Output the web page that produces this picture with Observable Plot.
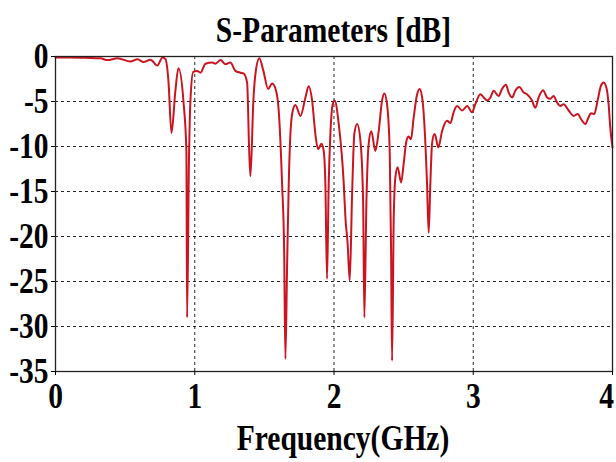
<!DOCTYPE html>
<html>
<head>
<meta charset="utf-8">
<script src="https://cdn.jsdelivr.net/npm/d3@7"></script>
<script src="https://cdn.jsdelivr.net/npm/@observablehq/plot@0.6"></script>
<style>
  body { margin: 0; background: #fff; }
  #wrap { position: relative; width: 616px; height: 462px; overflow: hidden;
          font-family: "Liberation Serif", "Times New Roman", serif; font-weight: bold; color: #000; }
  .lbl { position: absolute; text-align: center; line-height: 1; font-size: 36px;
         transform: scaleX(0.82); transform-origin: center; white-space: nowrap; }
  #chart { position: absolute; left: 0; top: 0; }
</style>
</head>
<body>
<div id="wrap">
  <div id="chart"></div>
  <div class="lbl" id="title" style="left:55px;width:557px;top:12px;">S-Parameters [dB]</div>
  <div class="lbl" id="xlabel" style="left:70px;width:546px;top:420px;">Frequency(GHz)</div>
</div>
<script>
// Frequency sweep (GHz) and the measured response (dB)
const freq = [
  0.000, 0.108, 0.215, 0.323, 0.373, 0.445, 0.538, 0.589, 0.632, 0.682,
  0.732, 0.768, 0.790, 0.811, 0.833, 0.861, 0.883, 0.919, 0.940, 0.945,
  0.958, 0.969, 0.989, 1.017, 1.041, 1.077, 1.125, 1.149, 1.185, 1.220,
  1.256, 1.292, 1.328, 1.352, 1.376, 1.391, 1.400, 1.421, 1.436, 1.464,
  1.493, 1.527, 1.556, 1.584, 1.603, 1.627, 1.642, 1.651, 1.663, 1.675,
  1.687, 1.704, 1.723, 1.759, 1.795, 1.818, 1.843, 1.866, 1.886, 1.910,
  1.926, 1.938, 1.950, 1.962, 1.974, 1.991, 2.005, 2.034, 2.070, 2.082,
  2.098, 2.113, 2.130, 2.146, 2.166, 2.190, 2.209, 2.218, 2.233, 2.249,
  2.268, 2.297, 2.321, 2.345, 2.362, 2.381, 2.400, 2.410, 2.417, 2.429,
  2.441, 2.457, 2.482, 2.500, 2.520, 2.536, 2.553, 2.572, 2.597, 2.615,
  2.633, 2.649, 2.668, 2.680, 2.692, 2.704, 2.721, 2.728, 2.749, 2.776,
  2.812, 2.836, 2.859, 2.884, 2.920, 2.956, 2.991, 3.015, 3.051, 3.075,
  3.099, 3.123, 3.147, 3.182, 3.207, 3.235, 3.254, 3.279, 3.302, 3.331,
  3.362, 3.386, 3.422, 3.446, 3.470, 3.501, 3.530, 3.553, 3.577, 3.602,
  3.625, 3.649, 3.685, 3.721, 3.750, 3.776, 3.805, 3.827, 3.846, 3.869,
  3.893, 3.917, 3.936, 3.956, 3.972, 3.984, 4.000
];
const sParam = [
  -0.1, -0.1, -0.15, -0.2, -0.4, -0.2, -0.55, -0.3, -0.6, -0.35,
  -1.0, -0.1, -0.3, -2.7, -8.5, -3.8, -1.3, -5.0, -10.5, -29.0,
  -12.0, -4.9, -1.7, -1.6, -1.8, -0.8, -0.67, -0.8, -0.4, -0.85,
  -0.67, -1.6, -1.8, -1.9, -2.9, -10.5, -13.3, -4.9, -1.9, -0.2,
  -1.6, -3.6, -3.0, -3.8, -6.0, -14.1, -21.6, -33.6, -23.4, -14.1,
  -8.6, -6.0, -5.4, -6.6, -4.55, -3.3, -4.9, -8.6, -10.3, -9.7,
  -10.5, -14.1, -24.7, -14.1, -8.6, -5.3, -4.9, -7.5, -14.1, -17.9,
  -20.8, -24.9, -15.3, -8.6, -7.5, -9.4, -16.0, -29.0, -16.0, -9.7,
  -8.3, -10.5, -8.3, -4.9, -4.1, -5.3, -10.5, -21.6, -33.8, -17.9,
  -13.4, -12.3, -14.0, -11.95, -9.4, -8.9, -9.2, -6.8, -4.2, -3.6,
  -4.55, -7.5, -14.1, -19.6, -14.1, -9.7, -8.6, -8.8, -10.1, -8.3,
  -7.15, -7.4, -6.2, -5.5, -6.0, -5.5, -6.2, -5.3, -4.2, -4.55,
  -4.9, -4.55, -3.8, -4.4, -3.6, -3.15, -4.0, -4.55, -3.8, -3.4,
  -4.0, -4.2, -4.9, -5.7, -4.55, -3.75, -4.55, -4.7, -4.4, -5.1,
  -5.5, -5.3, -6.0, -6.6, -6.4, -7.0, -7.5, -6.8, -6.3, -6.4,
  -4.9, -3.25, -2.9, -3.45, -5.3, -7.9, -10.1
];
const xTicks = [0, 1, 2, 3, 4];
const yTicks = [0, -5, -10, -15, -20, -25, -30, -35];
const xGrid = [1, 2, 3];
const yGrid = [-5, -10, -15, -20, -25, -30];

const rows = freq.map((f, i) => ({f, db: sParam[i]}));

const chart = Plot.plot({
  width: 616,
  height: 462,
  marginTop: 56,
  marginBottom: 91,
  marginLeft: 55,
  marginRight: 4,
  style: {fontFamily: '"Liberation Serif", "Times New Roman", serif', fontWeight: "bold", background: "transparent", overflow: "visible", color: "#000"},
  x: {domain: [0, 4]},
  y: {domain: [-35, 0]},
  marks: [
    Plot.gridX(xGrid, {stroke: "#000", strokeOpacity: 0.85, strokeWidth: 1, strokeDasharray: "3,3"}),
    Plot.gridY(yGrid, {stroke: "#000", strokeOpacity: 0.85, strokeWidth: 1, strokeDasharray: "3,3"}),
    Plot.line(rows, {x: "f", y: "db", stroke: "#cc1420", strokeWidth: 2, curve: "monotone-x"}),
    Plot.frame({stroke: "#222", strokeWidth: 1.3}),
    Plot.axisX(xTicks, {tickSize: 4, tickPadding: 7, fontSize: 36, label: null, stroke: "#000", tickFormat: d => String(d)}),
    Plot.axisY(yTicks, {tickSize: 4, tickPadding: 3, fontSize: 36, label: null, stroke: "#000", tickFormat: d => String(d)})
  ]
});

// Narrow the tick labels to the condensed bold face; keep the last x label inside the page
chart.querySelectorAll("text").forEach(t => {
  const nudge = t.textContent === "4" ? " translate(-6,0)" : "";
  const tr = t.getAttribute("transform");
  if (tr) {
    t.setAttribute("transform", tr + nudge + " scale(0.82,1)");
  } else {
    const x = +(t.getAttribute("x") || 0), y = +(t.getAttribute("y") || 0);
    t.setAttribute("transform", `translate(${x},${y})${nudge} scale(0.82,1) translate(${-x},${-y})`);
  }
});

document.getElementById("chart").append(chart);
</script>
</body>
</html>
